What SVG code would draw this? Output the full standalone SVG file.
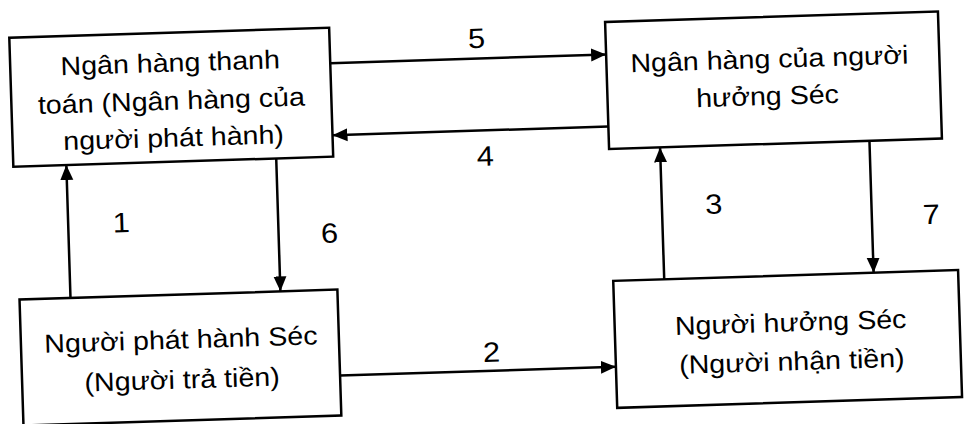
<svg xmlns="http://www.w3.org/2000/svg" width="965" height="424" viewBox="0 0 965 424">
<defs>
<style>
.box{fill:#fff;stroke:#000;stroke-width:2.5}
.t{font-family:"Liberation Sans",Arial,sans-serif;font-size:26px;fill:#000;text-anchor:middle}
.n{font-family:"Liberation Sans",Arial,sans-serif;font-size:28px;fill:#000;text-anchor:middle}
.c{stroke:#000;stroke-width:2.5;fill:none;marker-end:url(#ah)}
</style>
<marker id="ah" markerUnits="userSpaceOnUse" markerWidth="16" markerHeight="14" refX="15" refY="7" orient="auto">
<path d="M0,0.5 L15,7 L0,13.5 z" fill="#000"/>
</marker>
</defs>
<rect width="965" height="424" fill="#fff"/>
<g transform="rotate(-1.8 482 212)">
<g id="connectors">
<line class="c" x1="335" y1="58.5" x2="611" y2="58.5"/>
<line class="c" x1="611" y1="130.5" x2="335" y2="130.5"/>
<line class="c" x1="68" y1="285" x2="68" y2="152"/>
<line class="c" x1="278" y1="152" x2="278" y2="285"/>
<line class="c" x1="662" y1="285" x2="662" y2="153"/>
<line class="c" x1="871.5" y1="153" x2="871.5" y2="285"/>
<line class="c" x1="335" y1="371" x2="611" y2="371"/>
<text class="n" transform="translate(482 0) scale(1.1 1)" x="0" y="48">5</text>
<text class="n" transform="translate(487 0) scale(1.1 1)" x="0" y="166">4</text>
<text class="n" transform="translate(121 0) scale(1.1 1)" x="0" y="221">1</text>
<text class="n" transform="translate(714 0) scale(1.1 1)" x="0" y="221">3</text>
<text class="n" transform="translate(329 0) scale(1.1 1)" x="0" y="238">6</text>
<text class="n" transform="translate(931 0) scale(1.1 1)" x="0" y="238">7</text>
<text class="n" transform="translate(487 0) scale(1.1 1)" x="0" y="362">2</text>
</g>
<g id="bank-payer">
<rect class="box" x="15" y="23" width="320" height="129"/>
<text class="t" transform="translate(175 0) scale(1.1 1)" x="0" y="62">Ngân hàng thanh</text>
<text class="t" transform="translate(175 0) scale(1.1 1)" x="0" y="100">toán (Ngân hàng của</text>
<text class="t" transform="translate(176 0) scale(1.1 1)" x="0" y="137">người phát hành)</text>
</g>
<g id="bank-payee">
<rect class="box" x="611" y="26" width="333" height="127"/>
<text class="t" transform="translate(774 0) scale(1.1 1)" x="0" y="77">Ngân hàng của người</text>
<text class="t" transform="translate(771 0) scale(1.1 1)" x="0" y="114">hưởng Séc</text>
</g>
<g id="drawer">
<rect class="box" x="17" y="285" width="318" height="126"/>
<text class="t" transform="translate(177 0) scale(1.1 1)" x="0" y="339">Người phát hành Séc</text>
<text class="t" transform="translate(177 0) scale(1.1 1)" x="0" y="379">(Người trả tiền)</text>
</g>
<g id="payee">
<rect class="box" x="611" y="285" width="345" height="127"/>
<text class="t" transform="translate(787 0) scale(1.1 1)" x="0" y="341">Người hưởng Séc</text>
<text class="t" transform="translate(787 0) scale(1.1 1)" x="0" y="380">(Người nhận tiền)</text>
</g>
</g>
</svg>
